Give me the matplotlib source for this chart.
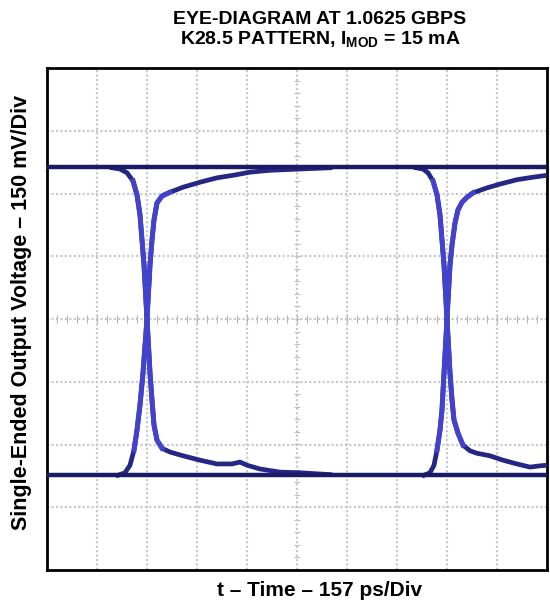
import matplotlib
matplotlib.use("Agg")
import matplotlib.pyplot as plt
import numpy as np

# ---- data (divisions: x 0..10 at 157 ps/div, y -4..4 at 150 mV/div) ----
high_level = 2.42
low_level = -2.48

fall1_x = [1.30, 1.46, 1.60, 1.72, 1.80, 1.86, 1.90, 1.94, 2.00, 2.06, 2.10, 2.14, 2.20, 2.30, 2.46, 2.72, 3.06, 3.40, 3.70, 3.86, 4.00, 4.26, 4.66, 5.06, 5.66]
fall1_y = [2.41, 2.39, 2.33, 2.20, 1.98, 1.66, 1.26, 0.86, 0.00, -0.86, -1.29, -1.69, -1.93, -2.06, -2.12, -2.18, -2.25, -2.31, -2.31, -2.28, -2.33, -2.39, -2.44, -2.45, -2.48]

rise1_x = [1.42, 1.56, 1.66, 1.74, 1.80, 1.86, 1.92, 2.00, 2.06, 2.10, 2.14, 2.20, 2.30, 2.46, 2.72, 3.06, 3.40, 3.72, 4.06, 4.46, 5.06, 5.66]
rise1_y = [-2.49, -2.45, -2.33, -2.09, -1.77, -1.37, -0.86, 0.00, 0.86, 1.26, 1.58, 1.85, 1.96, 2.02, 2.10, 2.18, 2.25, 2.29, 2.34, 2.37, 2.39, 2.41]

fall2_x = [7.38, 7.52, 7.62, 7.72, 7.80, 7.86, 7.90, 7.94, 8.00, 8.06, 8.10, 8.14, 8.22, 8.32, 8.46, 8.60, 8.86, 9.12, 9.40, 9.66, 9.86, 10.0]
fall2_y = [2.41, 2.39, 2.33, 2.20, 1.98, 1.66, 1.26, 0.86, 0.00, -0.86, -1.29, -1.61, -1.82, -2.01, -2.10, -2.14, -2.18, -2.25, -2.31, -2.36, -2.34, -2.33]

rise2_x = [7.54, 7.66, 7.74, 7.80, 7.86, 7.90, 7.94, 8.00, 8.06, 8.10, 8.16, 8.22, 8.30, 8.40, 8.52, 8.80, 9.06, 9.40, 9.72, 10.0]
rise2_y = [-2.49, -2.45, -2.33, -2.09, -1.77, -1.45, -0.86, 0.00, 0.86, 1.18, 1.53, 1.74, 1.86, 1.94, 2.01, 2.09, 2.15, 2.22, 2.26, 2.29]

title_lines = ["EYE-DIAGRAM AT 1.0625 GBPS", r"K28.5 PATTERN, I$_\mathrm{MOD}$ = 15 mA"]
xlabel = "t \u2013 Time \u2013 157 ps/Div"
ylabel = "Single-Ended Output Voltage \u2013 150 mV/Div"

# ---- style ----
plt.rcParams['font.family'] = ['Liberation Sans', 'DejaVu Sans']
plt.rcParams['font.weight'] = 'bold'
plt.rcParams['mathtext.fontset'] = 'custom'
plt.rcParams['mathtext.rm'] = 'Liberation Sans:bold'
plt.rcParams['mathtext.bf'] = 'Liberation Sans:bold'

fig = plt.figure(figsize=(5.5, 6.06), dpi=100)
ax = fig.add_axes([47/550, 36/606, 500/550, 502/606])
ax.set_xlim(0, 10)
ax.set_ylim(-4, 4)

grid_color = '#cacaca'
for gx in range(1, 10):
    ax.axvline(gx, color=grid_color, lw=1.6, ls=(0, (1, 1)), zorder=1)
for gy in range(-3, 4):
    ax.axhline(gy, color=grid_color, lw=1.6, ls=(0, (1, 1)), zorder=1)

# centre cross-hair minor ticks
tx = np.arange(0.2, 10, 0.2)
ax.plot(tx, np.zeros_like(tx), ls='none', marker='|', ms=6, mew=0.8, color='#b4b4b4', zorder=1)
ty = np.arange(-3.8, 4, 0.2)
ax.plot(np.full_like(ty, 5.0), ty, ls='none', marker='_', ms=5, mew=0.8, color='#c0c0c0', zorder=1)

rail_color = '#1a1a66'
edge_color = '#4242cc'
tail_color = '#262684'

ax.plot([0, 10], [high_level, high_level], color=rail_color, lw=3.2, solid_capstyle='butt', zorder=4)
ax.plot([0, 10], [low_level, low_level], color=rail_color, lw=3.2, solid_capstyle='butt', zorder=4)

for xs, ys in [(fall1_x, fall1_y), (rise1_x, rise1_y), (fall2_x, fall2_y), (rise2_x, rise2_y)]:
    ax.plot(xs, ys, color=tail_color, lw=3.4, solid_joinstyle='round', zorder=3)
    # brighter steep part
    xs_a = np.array(xs); ys_a = np.array(ys)
    m = np.abs(ys_a) < 2.0
    idx = np.where(m)[0]
    lo, hi = max(idx[0] - 1, 0), min(idx[-1] + 2, len(xs))
    ax.plot(xs_a[lo:hi], ys_a[lo:hi], color=edge_color, lw=3.6, solid_joinstyle='round', zorder=3.5)

ax.set_xticks([]); ax.set_yticks([])
for s in ax.spines.values():
    s.set_linewidth(2.0)
    s.set_color('black')

fig.text(320/550, 1 - 19/606, title_lines[0], ha='center', va='center', fontsize=14, fontweight='bold')
fig.text(320/550, 1 - 40/606, title_lines[1], ha='center', va='center', fontsize=14, fontweight='bold')
fig.text(320/550, 1 - 590/606, xlabel, ha='center', va='center', fontsize=15, fontweight='bold')
fig.text(22/550, 1 - 312/606, ylabel, ha='center', va='center', rotation=90, fontsize=15.5, fontweight='bold')

fig.savefig('out.png', dpi=100)
